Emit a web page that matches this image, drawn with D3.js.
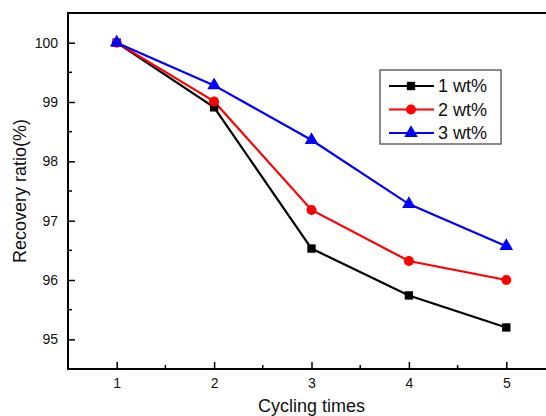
<!DOCTYPE html>
<html>
<head>
<meta charset="utf-8">
<script src="https://cdn.jsdelivr.net/npm/d3@7"></script>
<style>
  body { margin: 0; background: #fff; }
  text { font-family: Arial, "Liberation Sans", sans-serif; fill: #111; }
</style>
</head>
<body>
<script>
// recovery ratio vs cycling times

var cycles = [1, 2, 3, 4, 5];
var seriesNames = ['1 wt%', '2 wt%', '3 wt%'];
var wt1 = [100, 98.91, 96.53, 95.74, 95.2];
var wt2 = [100, 99.01, 97.18, 96.32, 96.0];
var wt3 = [100, 99.28, 98.36, 97.28, 96.57];
var yTicks = [95, 96, 97, 98, 99, 100];

var outerWidth = 546,
    outerHeight = 416,
    margin = {left:68, top:13},
    innerWidth = 487,
    innerHeight = 356;

var colors = ['#000000', '#ff0000', '#0000ff'];
var shapes = [d3.symbolSquare, d3.symbolCircle, d3.symbolTriangle];
var sizes = [70, 78, 80];

var svg = d3.select('body').append('svg')
  .attr('width', outerWidth)
  .attr('height', outerHeight);

var g = svg.append('g')
  .attr('transform', 'translate(' + margin.left + ',' + margin.top + ')');

var xScale = d3.scaleLinear().domain([0.5, 5.5]).range([0, innerWidth]);
var yScale = d3.scaleLinear().domain([94.5, 100.5]).range([innerHeight, 0]);

// frame
g.append('rect')
  .attr('width', innerWidth).attr('height', innerHeight)
  .attr('fill', 'none').attr('stroke', '#000').attr('stroke-width', 2);

// minor ticks
var xMinor = d3.range(1.5, 5.5, 1);
var yMinor = d3.range(95.5, 100.5, 1);
g.selectAll('.xminor').data(xMinor).enter().append('line')
  .attr('x1', function(d){ return xScale(d); }).attr('x2', function(d){ return xScale(d); })
  .attr('y1', innerHeight).attr('y2', innerHeight - 4)
  .attr('stroke', '#000').attr('stroke-width', 1.5);
g.selectAll('.yminor').data(yMinor).enter().append('line')
  .attr('y1', function(d){ return yScale(d); }).attr('y2', function(d){ return yScale(d); })
  .attr('x1', 0).attr('x2', 4)
  .attr('stroke', '#000').attr('stroke-width', 1.5);

// axes with inward ticks
var xAxis = d3.axisBottom(xScale).tickValues(cycles).tickFormat(d3.format('d')).tickSize(-7).tickPadding(9);
var yAxis = d3.axisLeft(yScale).tickValues(yTicks).tickFormat(d3.format('d')).tickSize(-7).tickPadding(10);

var xg = g.append('g').attr('transform', 'translate(0,' + innerHeight + ')').call(xAxis);
var yg = g.append('g').call(yAxis);
[xg, yg].forEach(function(a){
  a.select('.domain').remove();
  a.selectAll('.tick line').attr('stroke', '#000').attr('stroke-width', 1.5);
  a.selectAll('.tick text').style('font-size', '14px')
    .style('font-family', 'Arial, "Liberation Sans", sans-serif').attr('fill', '#111');
});

// lines + markers
var data = [wt1, wt2, wt3];
var line = d3.line()
  .x(function(d, i){ return xScale(cycles[i]); })
  .y(function(d){ return yScale(d); });

data.forEach(function(s, k){
  g.append('path').datum(s)
    .attr('d', line)
    .attr('fill', 'none')
    .attr('stroke', colors[k])
    .attr('stroke-width', 2.2);
});
data.forEach(function(s, k){
  g.selectAll('.m' + k).data(s).enter().append('path')
    .attr('d', d3.symbol().type(shapes[k]).size(sizes[k]))
    .attr('transform', function(d, i){
      return 'translate(' + xScale(cycles[i]) + ',' + yScale(d) + ')';
    })
    .attr('fill', colors[k]);
});

// axis titles
svg.append('text')
  .attr('x', margin.left + xScale(3)).attr('y', 412)
  .attr('text-anchor', 'middle')
  .style('font-size', '18px')
  .text('Cycling times');

svg.append('text')
  .attr('transform', 'translate(26,' + (margin.top + innerHeight / 2) + ') rotate(-90)')
  .attr('text-anchor', 'middle')
  .style('font-size', '18px')
  .text('Recovery ratio(%)');

// legend
var legend = svg.append('g').attr('transform', 'translate(380,70)');
legend.append('rect')
  .attr('width', 121).attr('height', 74)
  .attr('fill', '#fff').attr('stroke', '#666').attr('stroke-width', 1.5);

seriesNames.forEach(function(name, k){
  var y = 16 + k * 23.5;
  legend.append('line')
    .attr('x1', 9).attr('x2', 54).attr('y1', y).attr('y2', y)
    .attr('stroke', colors[k]).attr('stroke-width', 2.2);
  legend.append('path')
    .attr('d', d3.symbol().type(shapes[k]).size(sizes[k]))
    .attr('transform', 'translate(31,' + y + ')')
    .attr('fill', colors[k]);
  legend.append('text')
    .attr('x', 58).attr('y', y + 6)
    .style('font-size', '18px')
    .text(name);
});
</script>
</body>
</html>
